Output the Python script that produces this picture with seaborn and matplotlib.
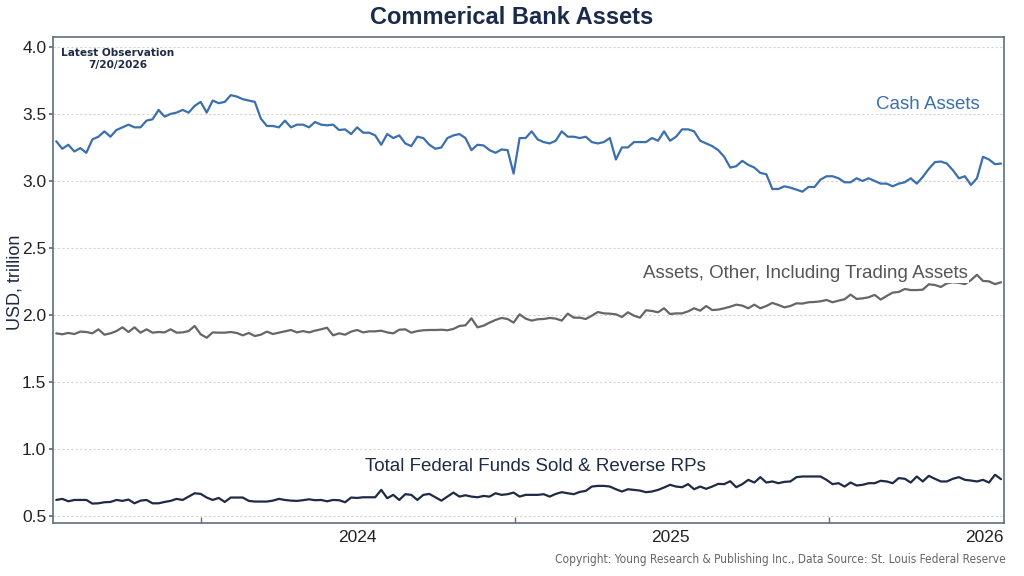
import numpy as np
import pandas as pd
import matplotlib
matplotlib.use("Agg")
import matplotlib.pyplot as plt
import seaborn as sns

# ---- data (USD trillion, weekly, ending 7/20/2026) ----
end_date = "2026-07-20"

cash_assets = [
    3.296, 3.24, 3.27, 3.22, 3.245, 3.21, 3.31, 3.33, 3.37, 3.33,
    3.38, 3.40, 3.42, 3.40, 3.40, 3.45, 3.46, 3.53, 3.48, 3.50,
    3.51, 3.53, 3.51, 3.56, 3.59, 3.51, 3.60, 3.58, 3.59, 3.64,
    3.63, 3.61, 3.60, 3.59, 3.465, 3.41, 3.41, 3.40, 3.45, 3.40,
    3.42, 3.42, 3.40, 3.44, 3.42, 3.415, 3.42, 3.38, 3.385, 3.35,
    3.40, 3.36, 3.36, 3.34, 3.27, 3.35, 3.32, 3.34, 3.28, 3.26,
    3.33, 3.32, 3.27, 3.24, 3.25, 3.32, 3.34, 3.35, 3.32, 3.23,
    3.27, 3.265, 3.23, 3.21, 3.235, 3.23, 3.055, 3.32, 3.32,
    3.37, 3.31, 3.29, 3.28, 3.30, 3.37, 3.33, 3.33, 3.32, 3.33,
    3.29, 3.28, 3.29, 3.32, 3.16, 3.25, 3.25, 3.29, 3.29, 3.29,
    3.32, 3.30, 3.37, 3.30, 3.33, 3.385, 3.385, 3.37, 3.30, 3.28,
    3.26, 3.23, 3.18, 3.10, 3.11, 3.15, 3.12, 3.10, 3.06, 3.05,
    2.94, 2.94, 2.96, 2.95, 2.935, 2.92, 2.955, 2.955, 3.01, 3.035,
    3.035, 3.02, 2.99, 2.99, 3.02, 3.00, 3.02, 3.00, 2.98, 2.98,
    2.96, 2.98, 2.99, 3.02, 2.98, 3.03, 3.09, 3.14, 3.145, 3.13,
    3.08, 3.02, 3.035, 2.97, 3.02, 3.18, 3.16, 3.125, 3.13,
]

other_assets = [
    1.863, 1.856, 1.866, 1.858, 1.876, 1.873, 1.863, 1.893, 1.853, 1.863,
    1.88, 1.908, 1.873, 1.908, 1.868, 1.893, 1.868, 1.873, 1.87, 1.893,
    1.868, 1.87, 1.88, 1.918, 1.856, 1.83, 1.87, 1.868, 1.868, 1.873,
    1.866, 1.848, 1.866, 1.843, 1.853, 1.876, 1.858, 1.868, 1.878, 1.888,
    1.87, 1.88, 1.87, 1.883, 1.893, 1.905, 1.848, 1.863, 1.853, 1.876,
    1.888, 1.87, 1.878, 1.878, 1.883, 1.87, 1.863, 1.89, 1.893, 1.868,
    1.88, 1.886, 1.888, 1.888, 1.89, 1.886, 1.896, 1.918, 1.923, 1.975,
    1.908, 1.92, 1.943, 1.963, 1.978, 1.97, 1.943, 2.005, 1.973,
    1.958, 1.968, 1.97, 1.978, 1.973, 1.958, 2.01, 1.98, 1.98, 1.97,
    1.995, 2.022, 2.012, 2.01, 2.005, 1.985, 2.02, 1.995, 1.98, 2.035,
    2.03, 2.02, 2.05, 2.007, 2.012, 2.012, 2.027, 2.05, 2.032, 2.067,
    2.037, 2.04, 2.05, 2.062, 2.077, 2.07, 2.05, 2.077, 2.05, 2.067,
    2.09, 2.075, 2.057, 2.067, 2.087, 2.085, 2.095, 2.097, 2.102, 2.112,
    2.095, 2.107, 2.117, 2.152, 2.12, 2.124, 2.132, 2.15, 2.115, 2.142,
    2.167, 2.172, 2.194, 2.186, 2.186, 2.189, 2.229, 2.224, 2.209, 2.236,
    2.244, 2.24, 2.23, 2.26, 2.30, 2.254, 2.251, 2.23, 2.244,
]

fed_funds_rps = [
    0.62, 0.628, 0.61, 0.62, 0.62, 0.62, 0.593, 0.595, 0.603, 0.605,
    0.62, 0.613, 0.623, 0.595, 0.615, 0.62, 0.595, 0.595, 0.605, 0.613,
    0.628, 0.62, 0.645, 0.67, 0.665, 0.638, 0.62, 0.635, 0.605, 0.638,
    0.638, 0.638, 0.613, 0.608, 0.608, 0.608, 0.615, 0.628, 0.62, 0.615,
    0.613, 0.618, 0.625, 0.618, 0.62, 0.61, 0.62, 0.618, 0.603, 0.638,
    0.635, 0.64, 0.64, 0.64, 0.695, 0.633, 0.658, 0.62, 0.663, 0.658,
    0.62, 0.658, 0.665, 0.64, 0.615, 0.645, 0.675, 0.645, 0.655, 0.645,
    0.64, 0.65, 0.645, 0.67, 0.658, 0.663, 0.675, 0.645, 0.658,
    0.658, 0.658, 0.663, 0.645, 0.665, 0.678, 0.67, 0.663, 0.68, 0.688,
    0.72, 0.725, 0.725, 0.72, 0.70, 0.683, 0.70, 0.695, 0.69, 0.678,
    0.683, 0.695, 0.713, 0.733, 0.72, 0.715, 0.738, 0.70, 0.72, 0.703,
    0.72, 0.74, 0.738, 0.76, 0.715, 0.738, 0.77, 0.75, 0.79, 0.75,
    0.758, 0.745, 0.755, 0.758, 0.79, 0.795, 0.795, 0.795, 0.795, 0.77,
    0.738, 0.745, 0.72, 0.75, 0.728, 0.733, 0.745, 0.745, 0.763, 0.758,
    0.745, 0.783, 0.778, 0.75, 0.795, 0.758, 0.80, 0.778, 0.758, 0.758,
    0.778, 0.79, 0.77, 0.765, 0.758, 0.77, 0.75, 0.808, 0.775,
]

series_names = ["Cash Assets",
                "Assets, Other, Including Trading Assets",
                "Total Federal Funds Sold & Reverse RPs"]
series_colors = ["#3b6fae", "#666666", "#1e2b44"]
year_labels = ["2024", "2025", "2026"]
y_ticks = [0.5, 1.0, 1.5, 2.0, 2.5, 3.0, 3.5, 4.0]

n = len(cash_assets)
dates = pd.date_range(end=end_date, periods=n, freq="7D")
df = pd.DataFrame({
    "date": np.concatenate([dates, dates, dates]),
    "value": cash_assets + other_assets + fed_funds_rps,
    "series": np.repeat(series_names, n),
})

sns.set_theme(style="white")
plt.rcParams["font.family"] = ["Liberation Sans", "DejaVu Sans"]

fig = plt.figure(figsize=(10.24, 5.76), dpi=100)
ax = fig.add_axes([0.052, 0.092, 0.9285, 0.844])

sns.lineplot(data=df, x="date", y="value", hue="series",
             palette=dict(zip(series_names, series_colors)),
             linewidth=1.6, legend=False, ax=ax)

ax.set_xlim(dates[0] - pd.Timedelta(days=3.5), dates[-1] + pd.Timedelta(days=3.5))
ax.set_ylim(0.448, 4.075)

# y axis
ax.set_yticks(y_ticks)
ax.set_yticklabels([f"{v:.1f}" for v in y_ticks])
ax.yaxis.grid(True, color="#d4d4d4", linestyle=(0, (2, 2)), linewidth=0.8)
ax.xaxis.grid(False)
ax.tick_params(axis="y", labelsize=12.5, labelcolor="#222222", length=3,
               color="#5d6f80", left=True, pad=2)
ax.set_ylabel("")
ax.set_xlabel("")
fig.text(0.015, 0.51, "USD, trillion", rotation=90, ha="center",
         va="center", fontsize=13, color="#1e2b44")

# x axis: labels mid-year, ticks at year boundaries
label_pos = [pd.Timestamp(f"{y}-07-01") for y in year_labels]
ax.set_xticks(label_pos)
ax.set_xticklabels(year_labels)
ax.tick_params(axis="x", which="major", length=0, labelsize=12.5,
               labelcolor="#222222", pad=5)
bound_pos = [pd.Timestamp(f"{y}-01-01") for y in year_labels]
ax.set_xticks(bound_pos, minor=True)
ax.tick_params(axis="x", which="minor", length=4, direction="in",
               color="#5d6f80", bottom=True, width=1)

for sp in ax.spines.values():
    sp.set_visible(True)
    sp.set_color("#5d6f80")
    sp.set_linewidth(1.2)

# series labels
ax.text(0.974, 3.57, series_names[0], transform=ax.get_yaxis_transform(),
        ha="right", va="center", fontsize=13.5, color=series_colors[0])
ax.text(0.962, 2.31, series_names[1], transform=ax.get_yaxis_transform(),
        ha="right", va="center", fontsize=13.5, color="#555555",
        bbox=dict(facecolor="white", edgecolor="none", pad=1))
ax.text(0.507, 0.868, series_names[2], transform=ax.get_yaxis_transform(),
        ha="center", va="center", fontsize=13.5, color=series_colors[2])

# latest observation note
ax.text(0.068, 0.977, "Latest Observation\n7/20/2026", transform=ax.transAxes,
        ha="center", va="top", fontsize=7.6, fontweight="bold",
        color="#1e2b44", family=["DejaVu Sans"], linespacing=1.2)

fig.suptitle("Commerical Bank Assets", x=0.5, y=0.99, fontsize=17,
             fontweight="bold", color="#1a2a4a")

fig.text(0.982, 0.028,
         "Copyright: Young Research & Publishing Inc., Data Source: St. Louis Federal Reserve",
         ha="right", va="center", fontsize=8.6, color="#666666",
         family=["DejaVu Sans"], fontstretch="condensed")

fig.savefig("out.png", dpi=100)
